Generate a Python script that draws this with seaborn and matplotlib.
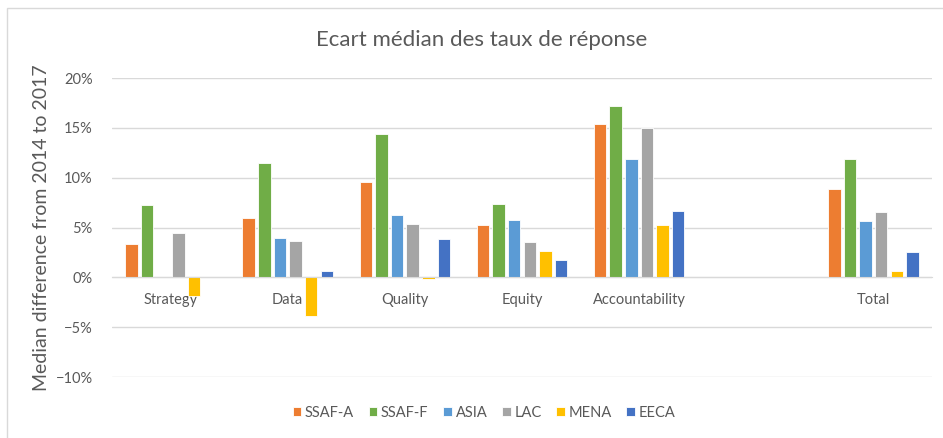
import matplotlib
matplotlib.use('Agg')
import matplotlib.pyplot as plt
from matplotlib.patches import Rectangle
from matplotlib.ticker import PercentFormatter, MultipleLocator
import numpy as np
import pandas as pd
import seaborn as sns

categories = ['Strategy', 'Data', 'Quality', 'Equity', 'Accountability', ' ', 'Total']
regions = ['SSAF-A', 'SSAF-F', 'ASIA', 'LAC', 'MENA', 'EECA']
colors = ['#ED7D31', '#70AD47', '#5B9BD5', '#A5A5A5', '#FFC000', '#4472C4']

# median difference (%), one list per region, NaN = no bar
ssaf_a = [3.3, 6.0, 9.6, 5.3, 15.4, np.nan, 8.9]
ssaf_f = [7.3, 11.5, 14.4, 7.4, 17.2, np.nan, 11.9]
asia = [np.nan, 3.9, 6.3, 5.8, 11.9, np.nan, 5.7]
lac = [4.4, 3.6, 5.4, 3.5, 15.0, np.nan, 6.6]
mena = [-1.9, -3.9, -0.2, 2.6, 5.3, np.nan, 0.6]
eeca = [np.nan, 0.6, 3.8, 1.7, 6.7, np.nan, 2.5]

rows = []
for region, vals in zip(regions, [ssaf_a, ssaf_f, asia, lac, mena, eeca]):
    for cat, v in zip(categories, vals):
        rows.append({'category': cat, 'region': region, 'value': v})
df = pd.DataFrame(rows).dropna()

sns.set_style('white')
plt.rcParams['font.family'] = ['Lato', 'DejaVu Sans']

fig = plt.figure(figsize=(9.43, 4.38), dpi=100)
ax = fig.add_axes([112 / 943, 1 - 377 / 438, 820 / 943, 299 / 438])

sns.barplot(data=df, x='category', y='value', hue='region', order=categories,
            hue_order=regions, palette=colors, saturation=1, gap=0.2, width=0.8,
            edgecolor='white', linewidth=0.6, errorbar=None, ax=ax)

ax.set_ylim(-10, 20)
ax.yaxis.set_major_locator(MultipleLocator(5))
ax.yaxis.set_major_formatter(PercentFormatter(decimals=0))
ax.grid(axis='y', color='#D9D9D9', linewidth=1)
ax.set_axisbelow(True)
for s in ['top', 'right', 'left']:
    ax.spines[s].set_visible(False)
ax.spines['bottom'].set_position(('data', 0))
ax.spines['bottom'].set_color('#D9D9D9')
ax.tick_params(axis='both', length=0, colors='#595959', labelsize=10.5)
ax.tick_params(axis='x', pad=11)
ax.tick_params(axis='y', pad=14)
ax.set_xlabel('')
ax.set_ylabel('Median difference from 2014 to 2017', fontsize=14, color='#595959', labelpad=4)

ax.legend(loc='center', bbox_to_anchor=(484 / 943, 1 - 413 / 438), bbox_transform=fig.transFigure,
          ncol=6, frameon=False, fontsize=10.5, handlelength=0.6, handleheight=0.6,
          handletextpad=0.25, columnspacing=1.0, labelcolor='#595959')

fig.text(482 / 943, 1 - 40 / 438, 'Ecart médian des taux de réponse', ha='center', va='center',
         fontsize=16, color='#595959')

fig.patches.append(Rectangle((7 / 943, -0.1), 1.2, 1 - 8 / 438 + 0.1, transform=fig.transFigure,
                             fill=False, edgecolor='#D9D9D9', linewidth=1))

fig.savefig('out.png', dpi=100)
